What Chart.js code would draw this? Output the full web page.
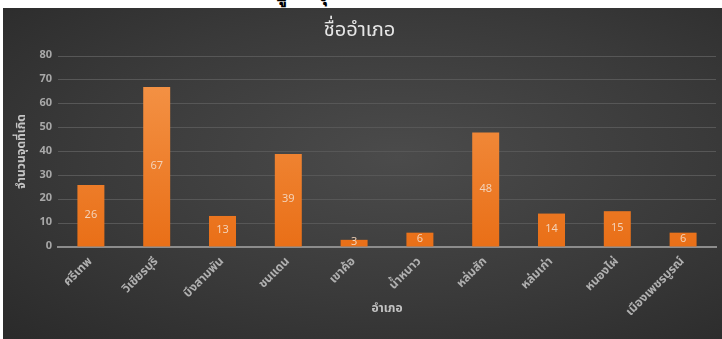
<!DOCTYPE html>
<html>
<head>
<meta charset="utf-8">
<script src="https://cdn.jsdelivr.net/npm/chart.js@4"></script>
<style>
  body { margin: 0; background: #fff; width: 722px; height: 339px; overflow: hidden; position: relative; }
  #top { position: absolute; top: -22px; left: 0; width: 722px; font: bold 20px "Noto Sans", sans-serif; color: #000; }
  #top span { position: absolute; }
  #box { position: absolute; left: 3px; top: 8px; width: 719px; height: 331px;
         background: radial-gradient(ellipse at 55% 45%, #4b4b4b 0%, #3a3a3a 55%, #2a2a2a 100%); }
</style>
</head>
<body>
<div id="top"><span style="left:274px">ปู</span><span style="left:316px">จุ</span></div>
<div id="box"><canvas id="myChart" width="719" height="331"></canvas></div>
<script>
var districts = ["ศรีเทพ", "วิเชียรบุรี", "บึงสามพัน", "ชนแดน", "เขาค้อ", "น้ำหนาว", "หล่มสัก", "หล่มเก่า", "หนองไผ่", "เมืองเพชรบูรณ์"];
var counts    = [26, 67, 13, 39, 3, 6, 48, 14, 15, 6];
var yTicks    = [0, 10, 20, 30, 40, 50, 60, 70, 80];

var FONT = "'Noto Sans Thai', 'Noto Sans', Tahoma, sans-serif";

// draw the value in the middle of each bar
var valueLabels = {
  id: "valueLabels",
  afterDatasetsDraw: function(chart) {
    var ctx = chart.ctx;
    var meta = chart.getDatasetMeta(0);
    ctx.save();
    ctx.fillStyle = "#f3d2b8";
    ctx.font = "11px " + FONT;
    ctx.textAlign = "center";
    ctx.textBaseline = "middle";
    for (var i = 0; i < meta.data.length; i++) {
      var bar = meta.data[i];
      var y = (bar.y + bar.base) / 2;
      ctx.fillText(String(counts[i]), bar.x, y);
    }
    ctx.restore();
  }
};

var ctx = document.getElementById("myChart").getContext("2d");

var myChart = new Chart(ctx, {
  type: "bar",
  data: {
    labels: districts,
    datasets: [{
      data: counts,
      backgroundColor: function(context) {
        var area = context.chart.chartArea;
        if (!area) return "#ee7a24";
        var g = context.chart.ctx.createLinearGradient(0, area.top, 0, area.bottom);
        g.addColorStop(0, "#f5974c");
        g.addColorStop(1, "#e96f17");
        return g;
      },
      borderWidth: 0,
      categoryPercentage: 1,
      barPercentage: 0.41
    }]
  },
  plugins: [valueLabels],
  options: {
    responsive: false,
    animation: false,
    layout: { padding: { left: 0, right: 6, bottom: 22 } },
    plugins: {
      legend: { display: false },
      tooltip: { enabled: false },
      title: {
        display: true,
        text: "ชื่ออำเภอ",
        color: "#e6e6e6",
        font: { family: FONT, size: 20, weight: "normal" },
        padding: { top: 12, bottom: 12 }
      }
    },
    scales: {
      x: {
        afterFit: function(scale) { scale.height = 70; },
        grid: { display: false, drawTicks: false },
        border: { color: "#8c8c8c", width: 2 },
        ticks: {
          color: "#b0b0b0",
          font: { family: FONT, size: 12, weight: "bold" },
          maxRotation: 45,
          minRotation: 45,
          padding: 8
        },
        title: {
          display: true,
          text: "อำเภอ",
          color: "#c4c4c4",
          font: { family: FONT, size: 12, weight: "bold" },
          padding: { top: 0, bottom: 0 }
        }
      },
      y: {
        min: 0,
        max: 80,
        afterFit: function(scale) { scale.width = 55; },
        afterBuildTicks: function(scale) {
          scale.ticks = yTicks.map(function(v) { return { value: v }; });
        },
        grid: { color: "#575757", lineWidth: 1, drawTicks: false },
        border: { display: false },
        ticks: {
          color: "#a8a8a8",
          font: { family: FONT, size: 11, weight: "bold" },
          padding: 6
        },
        title: {
          display: true,
          text: "จำนวนจุดที่เกิด",
          color: "#c4c4c4",
          font: { family: FONT, size: 12, weight: "bold" },
          padding: { top: 12, bottom: 0 }
        }
      }
    }
  }
});
</script>
</body>
</html>
